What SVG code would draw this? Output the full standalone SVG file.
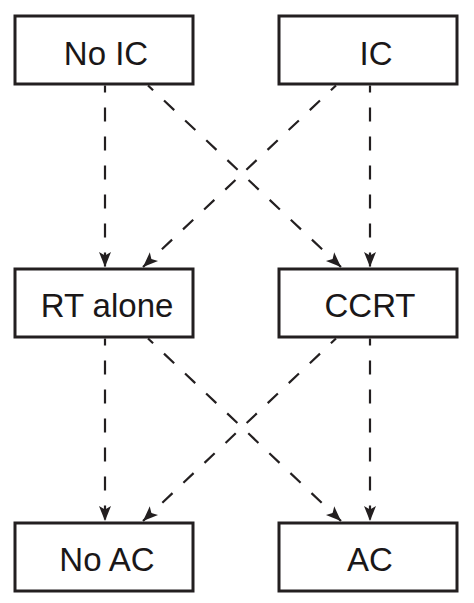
<svg xmlns="http://www.w3.org/2000/svg" width="474" height="603" viewBox="0 0 474 603">
<style>
.box{fill:#fff;stroke:#231f20;stroke-width:3}
.lbl{font-family:"Liberation Sans",Arial,sans-serif;font-size:33px;fill:#1a1718;text-anchor:middle}
.con{stroke:#231f20;stroke-width:2.2;fill:none;stroke-dasharray:14 15;stroke-dashoffset:7;marker-end:url(#ah)}
</style>
<defs>
<marker id="ah" markerUnits="userSpaceOnUse" markerWidth="18" markerHeight="16" viewBox="0 0 18 16" refX="16" refY="8" orient="auto">
<path d="M1,2 L16,8 L1,14 L4.5,8 z" fill="#231f20"/>
</marker>
</defs>
<rect width="474" height="603" fill="#fff"/>
<g id="connectors">
<line class="con" x1="105" y1="85.5" x2="105" y2="267"/>
<line class="con" x1="148" y1="85.5" x2="341" y2="267"/>
<line class="con" x1="336" y1="85.5" x2="143" y2="267"/>
<line class="con" x1="370" y1="85.5" x2="370" y2="267"/>
<line class="con" x1="105" y1="338.5" x2="105" y2="521"/>
<line class="con" x1="148" y1="338.5" x2="341" y2="521"/>
<line class="con" x1="336" y1="338.5" x2="143" y2="521"/>
<line class="con" x1="370" y1="338.5" x2="370" y2="521"/>
</g>
<g id="noIC"><rect class="box" x="15" y="16" width="178" height="68"/><text class="lbl" x="106" y="65">No IC</text></g>
<g id="IC"><rect class="box" x="279" y="16" width="178" height="68"/><text class="lbl" x="376" y="65">IC</text></g>
<g id="rtAlone"><rect class="box" x="15" y="269" width="178" height="68"/><text class="lbl" x="107" y="317">RT alone</text></g>
<g id="ccrt"><rect class="box" x="279" y="269" width="178" height="68"/><text class="lbl" x="370" y="317">CCRT</text></g>
<g id="noAC"><rect class="box" x="15" y="523" width="178" height="68"/><text class="lbl" x="107" y="571">No AC</text></g>
<g id="AC"><rect class="box" x="279" y="523" width="178" height="68"/><text class="lbl" x="370" y="571">AC</text></g>
</svg>
